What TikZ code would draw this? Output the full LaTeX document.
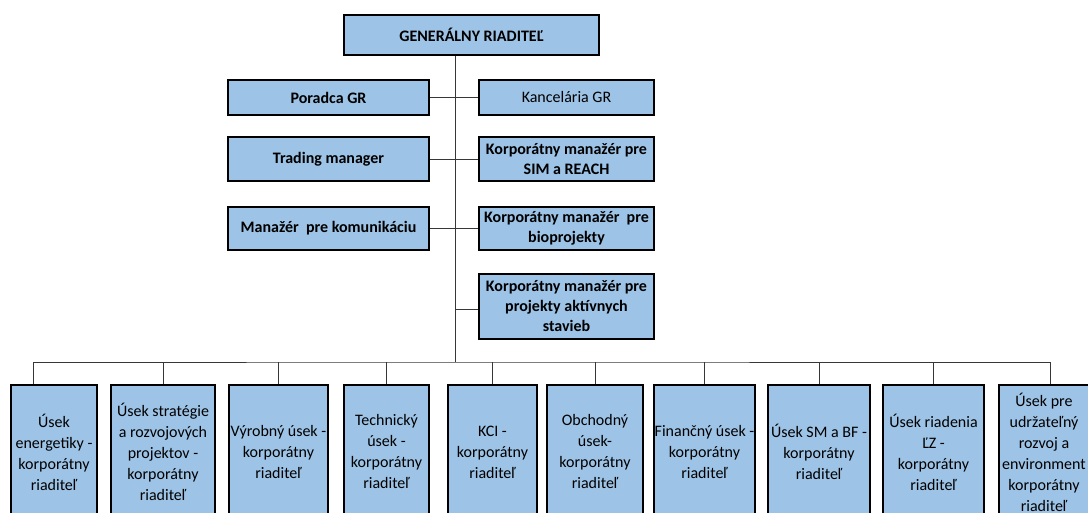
\documentclass[tikz,border=0pt]{standalone}
\usepackage{fontspec}
\setmainfont{Carlito}
\usetikzlibrary{positioning, calc}
\definecolor{cBox}{RGB}{157,195,230}
\definecolor{cLine}{RGB}{55,55,55}
\tikzset{
  basebox/.style={rectangle, draw=black, line width=2pt, fill=cBox,
                  align=center, inner xsep=1pt, inner ysep=2pt},
  headnode/.style={basebox, font=\fontsize{16}{20}\selectfont\bfseries,
                   minimum width=255pt, minimum height=40pt},
  leftnode/.style={basebox, font=\fontsize{16}{20}\selectfont\bfseries,
                   minimum width=201pt, minimum height=35pt},
  rightnode/.style={basebox, font=\fontsize{16}{20}\selectfont\bfseries,
                    minimum width=175pt, minimum height=35pt},
  unitnode/.style={basebox, font=\fontsize{16}{21}\selectfont,
                   anchor=north, minimum height=134pt},
  conn/.style={draw=cLine, line width=0.9pt}
}

\begin{document}
\begin{tikzpicture}[x=1pt, y=-1pt]
  \useasboundingbox (0,0) rectangle (1088,513);
  \clip (0,0) rectangle (1088,513);

  % ── Top ──
  \node[headnode] (gr) at (471.5,35) {GENERÁLNY RIADITEĽ};

  % ── Staff, left column ──
  \node[leftnode] (poradca) at (328.5,97.5) {Poradca GR};
  \node[leftnode, minimum height=44pt] (trading) at (328.5,159)
      {Trading manager};
  \node[leftnode, minimum height=43pt] (komunik) at (328.5,228.5)
      {Manažér\ \ pre komunikáciu};

  % ── Staff, right column ──
  \node[rightnode, font=\fontsize{16}{20}\selectfont] (kancel) at (566.5,97.5)
      {Kancelária GR};
  \node[rightnode, minimum height=44pt] (simreach) at (566.5,159)
      {Korporátny manažér pre\\SIM a REACH};
  \node[rightnode, minimum height=43pt] (biopr) at (566.5,228.5)
      {Korporátny manažér\ \ pre\\bioprojekty};
  \node[rightnode, minimum height=65pt] (stavby) at (566.5,306.5)
      {Korporátny manažér pre\\projekty aktívnych\\stavieb};

  % ── Divisions ──
  \node[unitnode, minimum width=86pt] (u1) at (54,384)
      {Úsek\\energetiky -\\korporátny\\riaditeľ};
  \node[unitnode, minimum width=104pt] (u2) at (163,384)
      {Úsek stratégie\\a rozvojových\\projektov -\\korporátny\\riaditeľ};
  \node[unitnode, minimum width=99pt] (u3) at (278.5,384)
      {Výrobný úsek -\\korporátny\\riaditeľ};
  \node[unitnode, minimum width=85pt] (u4) at (386.5,384)
      {Technický\\úsek -\\korporátny\\riaditeľ};
  \node[unitnode, minimum width=89pt] (u5) at (492.5,384)
      {KCI -\\korporátny\\riaditeľ};
  \node[unitnode, minimum width=96pt] (u6) at (595,384)
      {Obchodný\\úsek-\\korporátny\\riaditeľ};
  \node[unitnode, minimum width=101pt] (u7) at (704.5,384)
      {Finančný úsek -\\korporátny\\riaditeľ};
  \node[unitnode, minimum width=102pt] (u8) at (819,384)
      {Úsek SM a BF -\\korporátny\\riaditeľ};
  \node[unitnode, minimum width=101pt] (u9) at (933.5,384)
      {Úsek riadenia\\ĽZ -\\korporátny\\riaditeľ};
  \node[unitnode, minimum width=90pt] (u10) at (1044,384)
      {Úsek pre\\udržateľný\\rozvoj a\\environment\\korporátny\\riaditeľ};

  % ── Connectors ──
  \coordinate (bus) at (455,362);
  \draw[conn] (gr.south -| bus) -- (bus);
  \draw[conn] (poradca.east) -- (kancel.west);
  \draw[conn] (trading.east) -- (simreach.west);
  \draw[conn] (komunik.east) -- (biopr.west);
  \draw[conn] ([yshift=-3pt]stavby.west -| bus) -- ([yshift=-3pt]stavby.west);
  \draw[conn] ([xshift=-21pt]u1.north) |- (bus)
      -- ([xshift=6pt]u10.north |- bus) -- ([xshift=6pt]u10.north);
  \foreach \u in {u2,u3,u4,u5,u6,u7,u8,u9}
    \draw[conn] (\u.north |- bus) -- (\u.north);

\end{tikzpicture}
\end{document}
